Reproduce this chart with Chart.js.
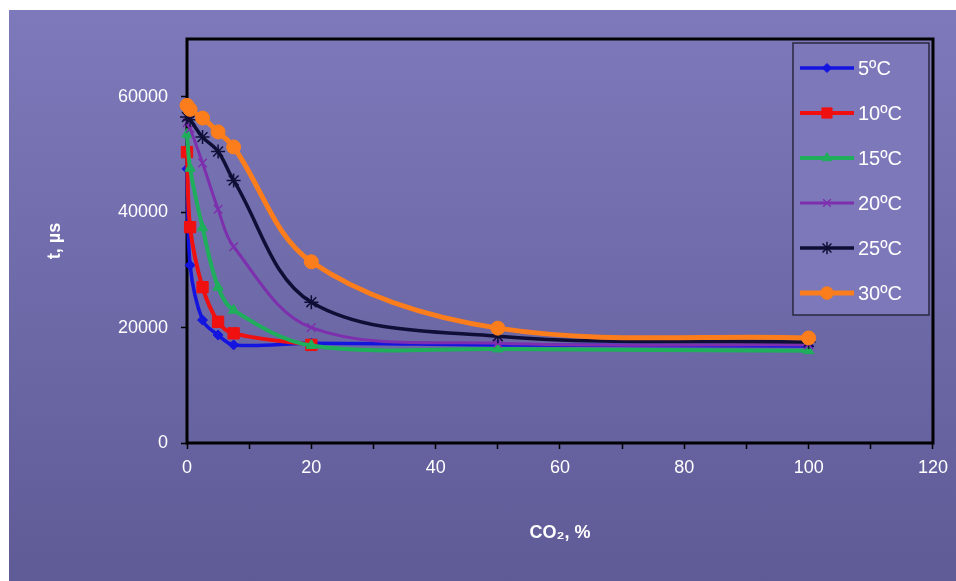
<!doctype html>
<html lang="en">
<head>
  <meta charset="utf-8">
  <title>t vs CO2</title>
  <script src="https://cdn.jsdelivr.net/npm/chart.js@4.4.1/dist/chart.umd.min.js"></script>
  <style>
    body { margin: 0; background: #fff; }
    #panel { position: absolute; left: 9px; top: 10px; right: 0; bottom: 0;
      background: linear-gradient(#7e79ba, #5f5b97); }
    #wrap { position: absolute; left: 0; top: 0; width: 956px; height: 581px; }
  </style>
</head>
<body>
  <div id="panel"></div>
  <div id="wrap"><canvas id="myChart" width="956" height="581"></canvas></div>
  <script>
    // CO2 concentration, % (shared by every temperature)
    const co2 = [0, 0.5, 2.5, 5, 7.5, 20, 50, 100];
    // t, µs for each temperature (null = not measured)
    const t5  = [47500, 30800, 21300, 18700, 17000, 17300, 17000, 16800];
    const t10 = [50400, 37400, 27000, 21000, 19000, 17000, null, null];
    const t15 = [53500, 47600, 37300, 27000, 23000, 16900, 16300, 16000];
    const t20 = [55500, 54500, 48500, 40500, 34000, 20000, 17300, 17000];
    const t25 = [56500, 56000, 53000, 50500, 45500, 24400, 18500, 17500];
    const t30 = [58500, 57800, 56300, 53900, 51300, 31400, 19900, 18200];
    const labels = ['5ºC', '10ºC', '15ºC', '20ºC', '25ºC', '30ºC'];
    const series = [t5, t10, t15, t20, t25, t30];
    const xTicks = [0, 20, 40, 60, 80, 100, 120];
    const yTicks = [0, 20000, 40000, 60000];

    const colors = ['#1414e0', '#f01010', '#1fae5c', '#7d2fae', '#0e0e36', '#fb7d1c'];
    const pointStyles = ['rectRot', 'rect', 'triangle', 'crossRot', 'star', 'circle'];
    const radii = [5, 8, 6, 6, 7, 7];
    const widths = [3.5, 4, 4, 3, 3.5, 5];

    const font = "'Liberation Sans', Arial, sans-serif";

    const datasets = series.map((vals, i) => ({
      label: labels[i],
      data: vals.map((v, j) => ({ x: co2[j], y: v })),
      borderColor: colors[i],
      backgroundColor: colors[i],
      pointBorderColor: colors[i],
      pointBackgroundColor: colors[i],
      pointStyle: pointStyles[i],
      pointRadius: radii[i],
      pointBorderWidth: (pointStyles[i] === 'crossRot' || pointStyles[i] === 'star') ? 1.5 : 1,
      borderWidth: widths[i],
      tension: 0.35,
      clip: false,
      order: series.length - i   // warmer curves on top
    }));

    // black frame round the plot area, under the curves
    const frame = {
      id: 'frame',
      beforeDatasetsDraw(chart) {
        const a = chart.chartArea, ctx = chart.ctx;
        ctx.save();
        ctx.strokeStyle = '#000';
        ctx.lineWidth = 3;
        ctx.strokeRect(a.left, a.top, a.right - a.left, a.bottom - a.top);
        ctx.restore();
      }
    };

    // boxed legend in the top right corner of the plot
    const legendBox = {
      id: 'legendBox',
      afterDatasetsDraw(chart) {
        const ctx = chart.ctx, a = chart.chartArea;
        const w = 136, h = 272;
        const left = a.right - 4 - w, top = a.top + 4;
        ctx.save();
        ctx.fillStyle = 'rgba(125,120,185,1)';
        ctx.fillRect(left, top, w, h);
        ctx.strokeStyle = '#2a2840';
        ctx.lineWidth = 1.5;
        ctx.strokeRect(left, top, w, h);
        chart.data.datasets.forEach((ds, i) => {
          const y = top + 25 + i * 45;
          ctx.strokeStyle = ds.borderColor;
          ctx.lineWidth = ds.borderWidth;
          ctx.beginPath();
          ctx.moveTo(left + 7, y);
          ctx.lineTo(left + 61, y);
          ctx.stroke();
          ctx.fillStyle = ds.pointBackgroundColor;
          ctx.strokeStyle = ds.pointBorderColor;
          ctx.lineWidth = ds.pointBorderWidth;
          Chart.helpers.drawPoint(ctx, {
            pointStyle: ds.pointStyle, radius: ds.pointRadius * 0.9, rotation: 0,
            borderWidth: ds.pointBorderWidth
          }, left + 34, y);
          ctx.fillStyle = '#fff';
          ctx.font = '20px ' + font;
          ctx.textBaseline = 'middle';
          ctx.fillText(ds.label, left + 65, y + 1);
        });
        ctx.restore();
      }
    };

    const ctx = document.getElementById('myChart').getContext('2d');
    const myChart = new Chart(ctx, {
      type: 'line',
      data: { datasets: datasets },
      plugins: [frame, legendBox],
      options: {
        responsive: false,
        animation: false,
        layout: { padding: { left: 30, top: 39, right: 19, bottom: 10 } },
        plugins: { legend: { display: false }, tooltip: { enabled: false } },
        scales: {
          x: {
            type: 'linear', min: 0, max: 120,
            ticks: {
              stepSize: 10, color: '#fff', padding: 8,
              font: { family: font, size: 18 },
              callback: v => xTicks.includes(v) ? String(v) : ''
            },
            grid: { drawOnChartArea: false, color: '#000', tickLength: 6, tickWidth: 1.5 },
            border: { display: false },
            title: {
              display: true, text: 'CO₂, %', color: '#fff',
              font: { family: font, size: 18, weight: 'bold' },
              padding: { top: 4, bottom: 27 }
            },
            afterFit: s => { s.height = 128; }
          },
          y: {
            type: 'linear', min: 0, max: 70000,
            afterBuildTicks: s => { s.ticks = yTicks.map(v => ({ value: v })); },
            ticks: {
              color: '#fff', padding: 13, font: { family: font, size: 18 },
              callback: v => String(v)
            },
            grid: { drawOnChartArea: false, color: '#000', tickLength: 6, tickWidth: 1.5 },
            border: { display: false },
            title: {
              display: true, text: 't, µs', color: '#fff',
              font: { family: font, size: 18, weight: 'bold' },
              padding: { top: 14, bottom: 0 }
            },
            afterFit: s => { s.width = 157; }
          }
        }
      }
    });
  </script>
</body>
</html>
